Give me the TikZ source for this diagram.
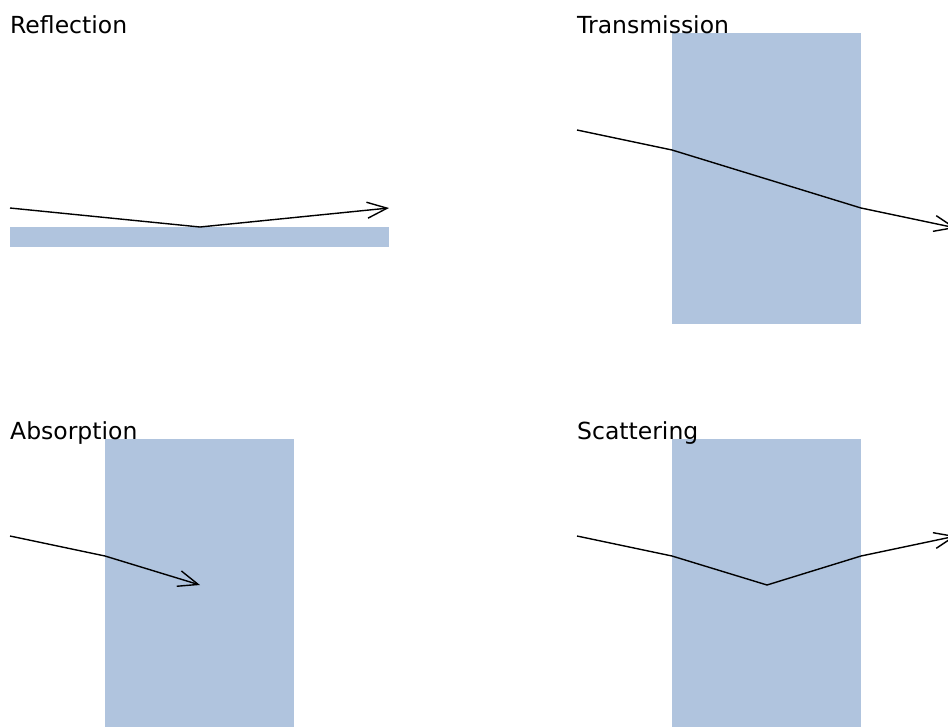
\documentclass[tikz,border=0pt]{standalone}
\usepackage{fontspec}
\setmainfont{DejaVu Sans}
\usetikzlibrary{arrows.meta}
\definecolor{steel}{RGB}{176,196,222}
\begin{document}
\begin{tikzpicture}[x=1pt,y=-1pt,
  slab/.style={fill=steel,draw=none},
  ray/.style={line width=1.4pt,line join=miter},
  rayarrow/.style={ray,-{Straight Barb[length=20pt,width=16pt,line width=1.4pt]}},
  title/.style={anchor=base west,inner sep=0pt,font=\fontsize{23.5}{28}\selectfont}]
\useasboundingbox (0,0) rectangle (948,726);
\clip (0,0) rectangle (948,726);
% Reflection
\fill[slab] (10,227) rectangle (389,247);
\coordinate (r1) at (10,208);
\coordinate (r2) at (200,227);
\coordinate (r3) at (389,208);
\draw[rayarrow] (r1) -- (r2) -- (r3);
% Transmission
\fill[slab] (672,33) rectangle (861,324);
\coordinate (t1) at (577,130);
\coordinate (t2) at (672,150);
\coordinate (t3) at (861,208);
\coordinate (t4) at (956,228);
\draw[rayarrow] (t1) -- (t2) -- (t3) -- (t4);
% Absorption
\fill[slab] (105,439) rectangle (294,730);
\coordinate (a1) at (10,536);
\coordinate (a2) at (105,556);
\coordinate (a3) at (200,585);
\draw[rayarrow] (a1) -- (a2) -- (a3);
% Scattering
\fill[slab] (672,439) rectangle (861,730);
\coordinate (s1) at (577,536);
\coordinate (s2) at (672,556);
\coordinate (s3) at (767,585);
\coordinate (s4) at (861,556);
\coordinate (s5) at (956,536);
\draw[rayarrow] (s1) -- (s2) -- (s3) -- (s4) -- (s5);
% Titles
\node[title] (lr) at (10,33.5) {Reflection};
\node[title] (lt) at (577,33.5) {Transmission};
\node[title] (la) at (10,439.5) {Absorption};
\node[title] (ls) at (577,439.5) {Scattering};
\end{tikzpicture}
\end{document}
